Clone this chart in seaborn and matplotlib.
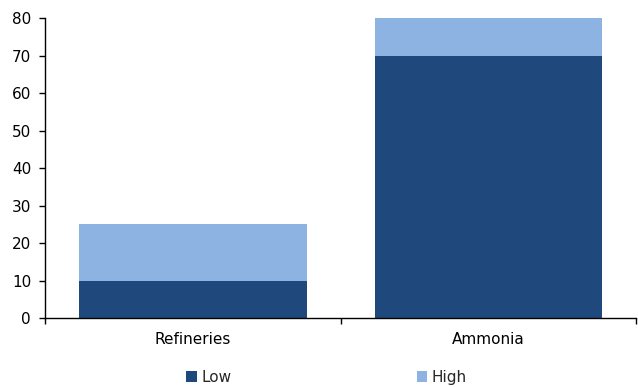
import matplotlib
matplotlib.use("Agg")
import matplotlib.pyplot as plt
import seaborn as sns
import pandas as pd
from matplotlib.patches import Patch

categories = ["Refineries", "Ammonia"]
low_values = [10, 70]
high_values = [25, 80]  # top of stacked bar (Low + High)
series_names = ["Low", "High"]
y_ticks = [0, 10, 20, 30, 40, 50, 60, 70, 80]

dark = "#1F497D"
light = "#8DB3E2"

sns.set_theme(style="white")
plt.rcParams['font.family'] = ['DejaVu Sans']
fs = 11

fig = plt.figure(figsize=(6.38, 3.87), dpi=100)
ax = fig.add_axes([0.0705, 0.178, 0.927, 0.775])

df = pd.DataFrame({"cat": categories, "low": low_values, "total": high_values})
sns.barplot(data=df, x="cat", y="total", color=light, saturation=1, width=0.77, ax=ax)
sns.barplot(data=df, x="cat", y="low", color=dark, saturation=1, width=0.77, ax=ax)
for p in ax.patches:
    p.set_edgecolor("none")

ax.set_xlim(-0.5, 1.5)
ax.set_ylim(0, 80)
ax.set_yticks(y_ticks)
ax.set_xlabel("")
ax.set_ylabel("")
for s in ["top", "right"]:
    ax.spines[s].set_visible(False)
for s in ["left", "bottom"]:
    ax.spines[s].set_color("black")
    ax.spines[s].set_linewidth(1.0)

ax.tick_params(axis="y", direction="out", length=4, width=1, color="black",
               labelsize=fs, labelcolor="black", left=True, pad=6)
ax.tick_params(axis="x", which="major", length=0, labelsize=fs, labelcolor="black", pad=10)
ax.set_xticks([-0.5, 0.5, 1.5], minor=True)
ax.tick_params(axis="x", which="minor", direction="out", length=4, width=1, color="black", bottom=True)

handles = [Patch(facecolor=dark, edgecolor="none", label=series_names[0]),
           Patch(facecolor=light, edgecolor="none", label=series_names[1])]
fig.legend(handles=handles, loc="center", bbox_to_anchor=(0.512, 0.025), ncol=2,
           frameon=False, fontsize=fs, handlelength=0.7, handleheight=0.7,
           handletextpad=0.3, columnspacing=12.1)

fig.savefig("out.png", dpi=100)
